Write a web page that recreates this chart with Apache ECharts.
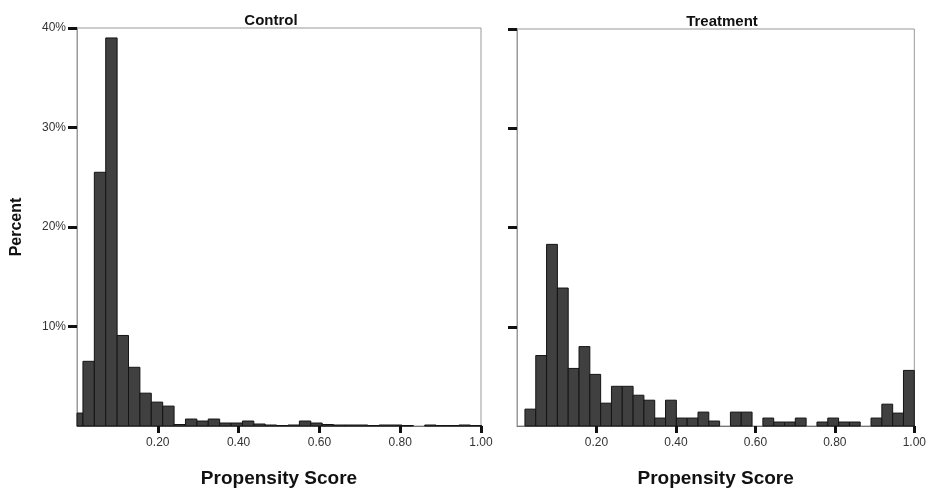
<!DOCTYPE html>
<html>
<head>
<meta charset="utf-8">
<script src="https://cdn.jsdelivr.net/npm/echarts@6/dist/echarts.min.js"></script>
<style>html,body{margin:0;padding:0;background:#fff;}#c{width:929px;height:493px;}</style>
</head>
<body>
<div id="c"></div>
<script>
// Histogram bins (propensity score)
const controlBinStart = -0.0135;
const controlBinWidth = 0.0282;
const controlPercent = [1.3, 6.5, 25.5, 39.0, 9.1, 5.9, 3.3, 2.4, 2.0, 0.15, 0.7, 0.5, 0.7, 0.3, 0.3, 0.5, 0.2, 0.1, 0.05, 0.1, 0.5, 0.3, 0.15, 0.1, 0.1, 0.1, 0.05, 0.1, 0.1, 0.05, 0, 0.1, 0.05, 0.05, 0.1, 0.05];

const treatmentBinStart = 0.02;
const treatmentBinWidth = 0.02722;
const treatmentPercent = [1.7, 7.1, 18.3, 13.9, 5.8, 8.0, 5.2, 2.3, 4.0, 4.0, 3.1, 2.6, 0.8, 2.6, 0.8, 0.8, 1.4, 0.5, 0, 1.4, 1.4, 0, 0.8, 0.4, 0.4, 0.8, 0, 0.4, 0.8, 0.4, 0.4, 0, 0.8, 2.2, 1.3, 5.6];

const xTickValues = [0.2, 0.4, 0.6, 0.8, 1.0];
const yTickValues = [10, 20, 30, 40];
const panelTitles = ['Control', 'Treatment'];
const xAxisTitle = 'Propensity Score';
const yAxisTitle = 'Percent';

function bins(start, width, vals) {
  return vals.map((v, i) => [start + i * width, start + (i + 1) * width, v]);
}

function renderBar(params, api) {
  const lo = Math.max(api.value(0), 0);
  const hi = api.value(1);
  const v = api.value(2);
  if (v <= 0) return null;
  const p0 = api.coord([lo, v]);
  const p1 = api.coord([hi, 0]);
  return {
    type: 'rect',
    shape: { x: p0[0], y: p0[1], width: p1[0] - p0[0], height: p1[1] - p0[1] },
    style: { fill: '#404040', stroke: '#141414', lineWidth: 1 }
  };
}

const chart = echarts.init(document.getElementById('c'), null, { renderer: 'canvas' });

function xAx(idx) {
  return {
    type: 'value', gridIndex: idx, min: 0, max: 1,
    splitLine: { show: false },
    axisLine: { show: true, lineStyle: { color: '#777', width: 1 } },
    axisTick: { show: true, customValues: xTickValues, length: 7, lineStyle: { color: '#111', width: 3 } },
    axisLabel: { show: true, customValues: xTickValues, formatter: v => v.toFixed(2), color: '#333', fontSize: 12, fontFamily: 'Liberation Sans, Arial', margin: 11 },
    name: xAxisTitle, nameLocation: 'middle', nameGap: 43,
    nameTextStyle: { fontSize: 19, fontWeight: 'bold', color: '#111', fontFamily: 'Liberation Sans, Arial' }
  };
}
function yAx(idx, labels) {
  return {
    type: 'value', gridIndex: idx, min: 0, max: 40,
    splitLine: { show: false },
    axisLine: { show: true, lineStyle: { color: '#999', width: 1 } },
    axisTick: { show: true, customValues: yTickValues, length: 9, lineStyle: { color: '#111', width: 3 } },
    axisLabel: { show: labels, customValues: yTickValues, formatter: '{value}%', color: '#333', fontSize: 12, fontFamily: 'Liberation Sans, Arial', margin: 11 },
    name: labels ? yAxisTitle : '', nameLocation: 'middle', nameRotate: 90, nameGap: 52,
    nameTextStyle: { fontSize: 16, fontWeight: 'bold', color: '#111', fontFamily: 'Liberation Sans, Arial' }
  };
}

chart.setOption({
  animation: false,
  backgroundColor: '#ffffff',
  title: [
    { text: panelTitles[0], left: 266, top: 8, textAlign: 'center', textStyle: { fontSize: 15, fontWeight: 'bold', color: '#111', fontFamily: 'Liberation Sans, Arial' } },
    { text: panelTitles[1], left: 717, top: 9, textAlign: 'center', textStyle: { fontSize: 15, fontWeight: 'bold', color: '#111', fontFamily: 'Liberation Sans, Arial' } }
  ],
  grid: [
    { left: 77, top: 28, width: 404, height: 401, show: true, borderColor: '#999', borderWidth: 1, backgroundColor: 'transparent' },
    { left: 517, top: 29, width: 400, height: 400, show: true, borderColor: '#999', borderWidth: 1, backgroundColor: 'transparent' }
  ],
  xAxis: [xAx(0), xAx(1)],
  yAxis: [yAx(0, true), yAx(1, false)],
  series: [
    { type: 'custom', xAxisIndex: 0, yAxisIndex: 0, renderItem: renderBar, encode: { x: [0, 1], y: 2 }, data: bins(controlBinStart, controlBinWidth, controlPercent) },
    { type: 'custom', xAxisIndex: 1, yAxisIndex: 1, renderItem: renderBar, encode: { x: [0, 1], y: 2 }, data: bins(treatmentBinStart, treatmentBinWidth, treatmentPercent) }
  ]
});
</script>
</body>
</html>
